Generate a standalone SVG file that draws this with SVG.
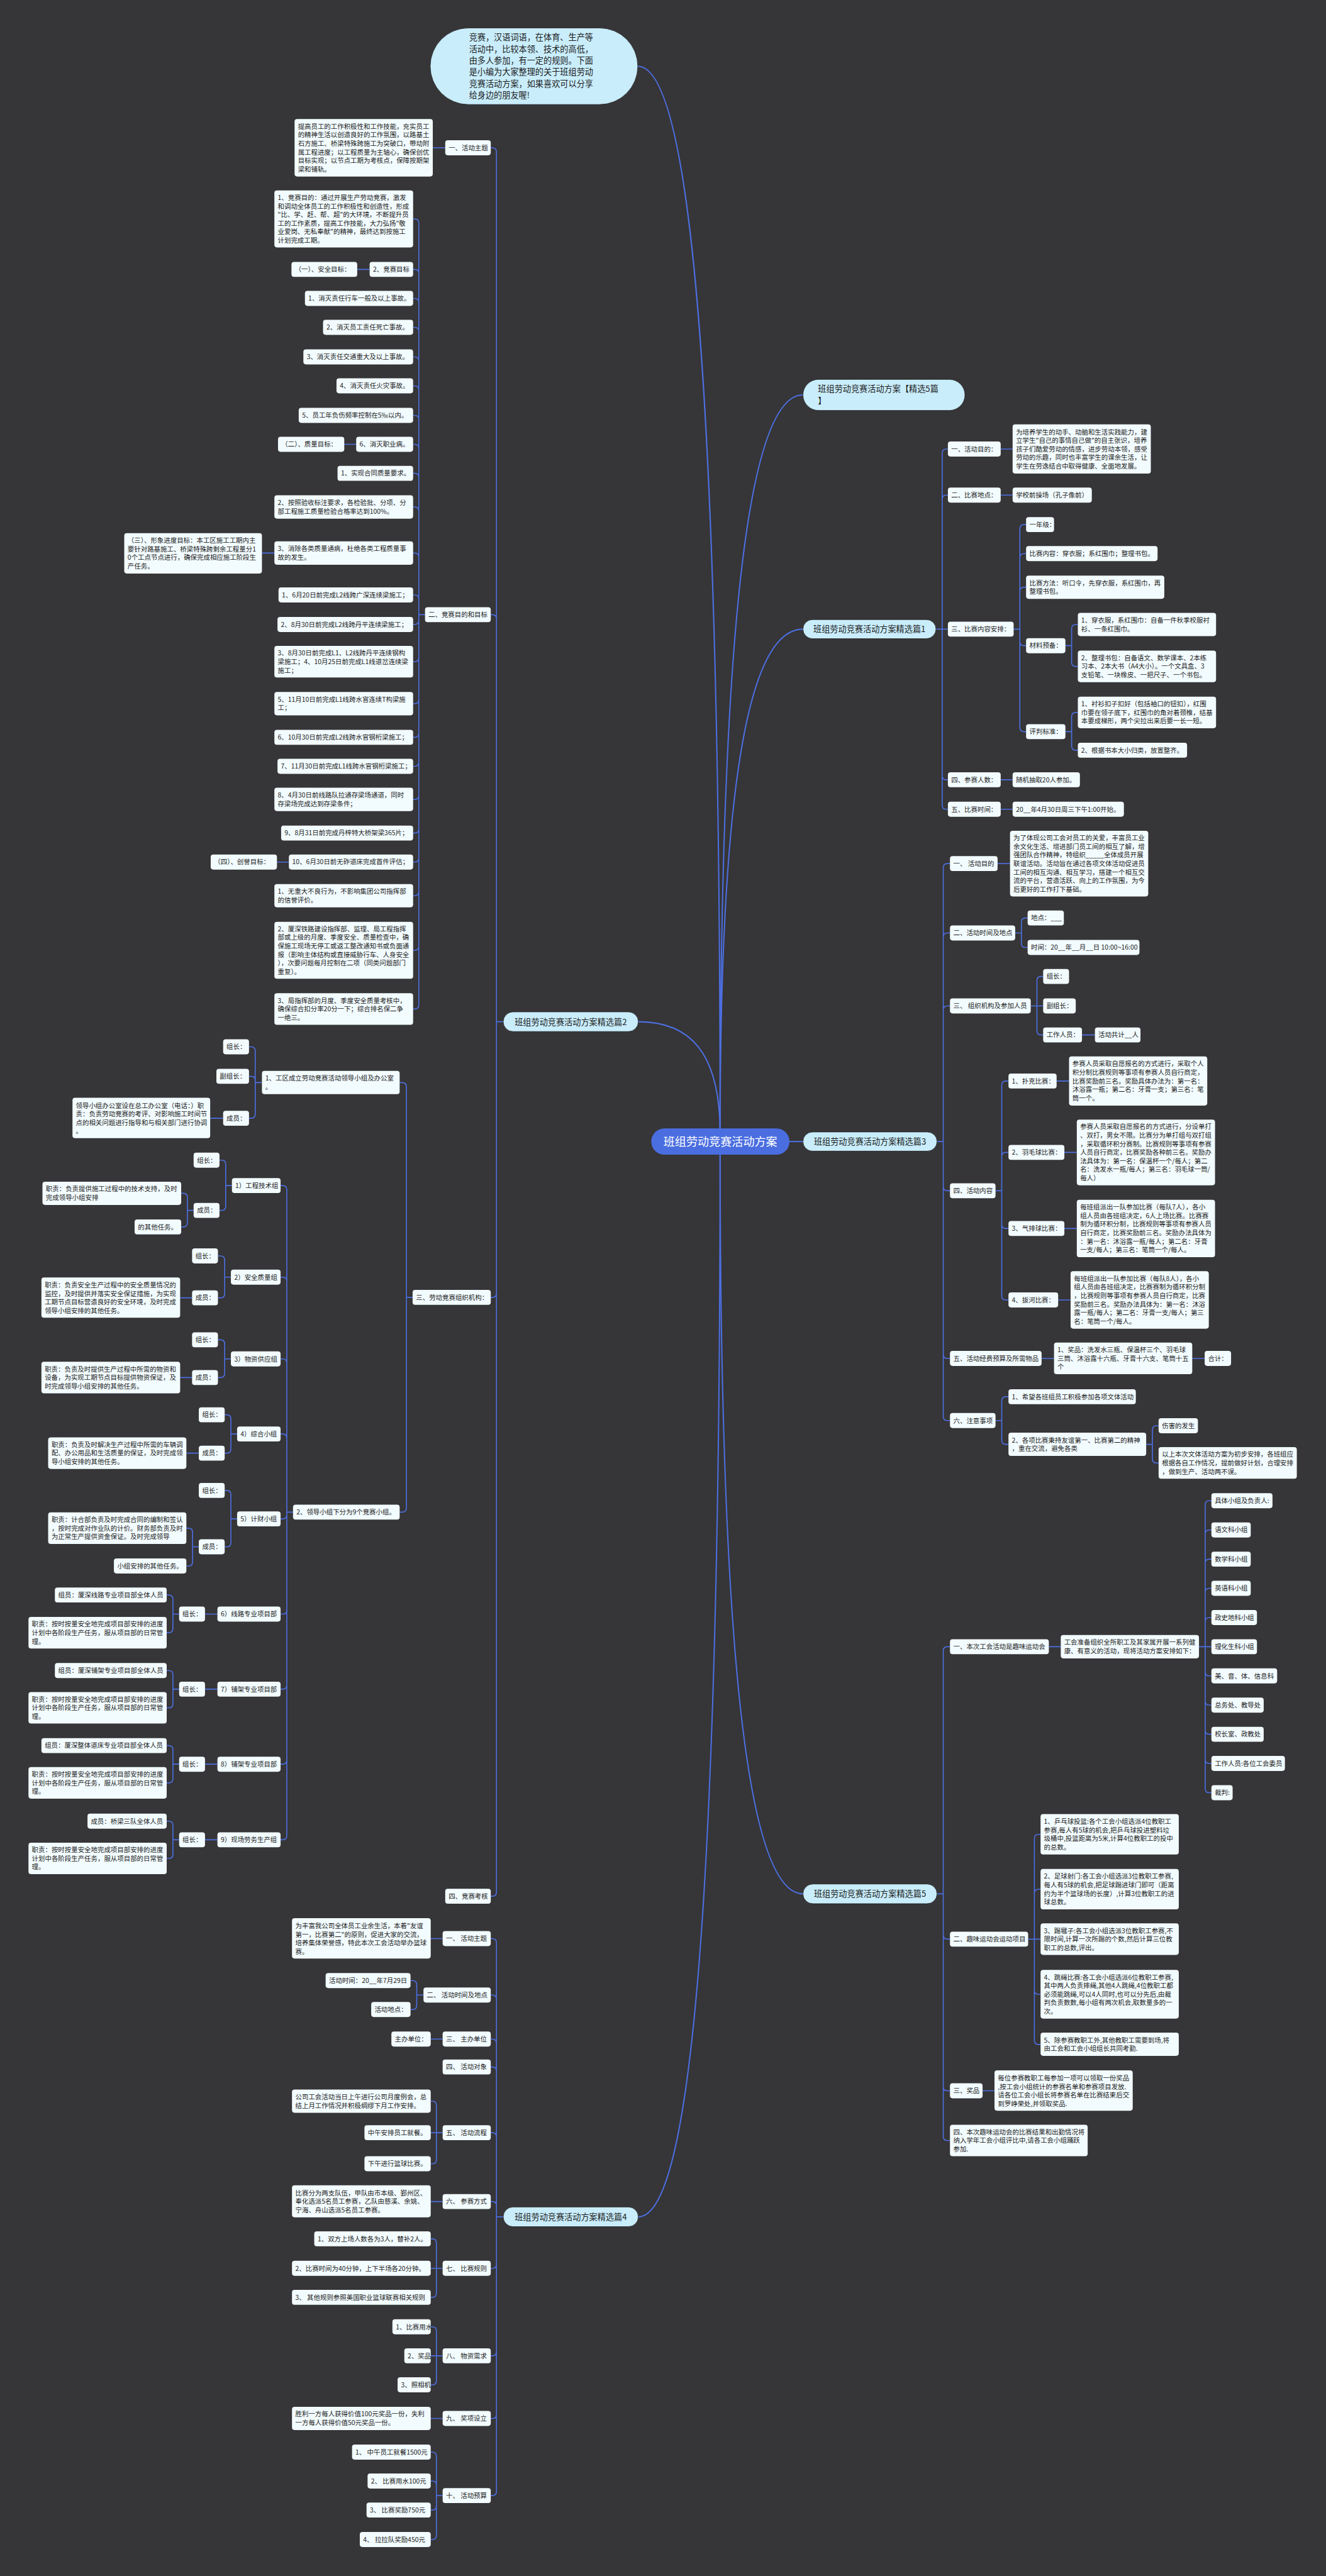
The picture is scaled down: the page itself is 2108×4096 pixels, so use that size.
<svg xmlns="http://www.w3.org/2000/svg" width="2108" height="4096" viewBox="0 0 2108 4096">
<style>
text{font-family:"Noto Sans CJK SC","Noto Sans",sans-serif;fill:#1c1c1c}
.n rect{fill:#f2fbfe}
.n text{font-size:12.7px}
.b rect{fill:#c9edfb;stroke:#202020;stroke-width:1}
.b text{font-size:16px;text-anchor:middle}
.c path{fill:none;stroke:#4c6fe0;stroke-width:2}
.c .m{stroke-width:2.5}
</style>
<rect width="2108" height="4096" fill="#363537"/>
<g transform="scale(0.823)">
<g id="connectors" class="c">
<path class="m" d="M1232 128C1329 128 1391 688 1391 2190"/>
<path class="m" d="M1391 2190C1391 1146 1453 763 1551 763"/>
<path class="m" d="M1391 2190C1391 1476 1453 1215.5 1551 1215.5"/>
<path class="m" d="M1391 2190C1391 2030 1330 1974 1233 1974"/>
<path class="m" d="M1520 2205.5H1551"/>
<path class="m" d="M1391 2220C1391 3729 1330 4283 1233 4283"/>
<path class="m" d="M1391 2220C1391 3273 1453 3659 1551 3659"/>
<path d="M1808 1215.5H1820M1820 875.5V1555.5M1820 875.5Q1820 867.5 1828 867.5H1831M1820 964.5Q1820 956.5 1828 956.5H1831M1820 1215.5H1831M1820 1498.5Q1820 1506.5 1828 1506.5H1831M1820 1555.5Q1820 1563.5 1828 1563.5H1831"/>
<path d="M1958 1215.5H1970M1970 1021.5V1405.5M1970 1021.5Q1970 1013.5 1978 1013.5H1982M1970 1077.5Q1970 1069.5 1978 1069.5H1982M1970 1142.5Q1970 1134.5 1978 1134.5H1982M1970 1239.5Q1970 1247.5 1978 1247.5H1982M1970 1405.5Q1970 1413.5 1978 1413.5H1982"/>
<path d="M2058 1247.5H2070M2070 1214.5V1279.5M2070 1214.5Q2070 1206.5 2078 1206.5H2082M2070 1279.5Q2070 1287.5 2078 1287.5H2082"/>
<path d="M2058 1413.5H2070M2070 1384.5V1441.5M2070 1384.5Q2070 1376.5 2078 1376.5H2082M2070 1441.5Q2070 1449.5 2078 1449.5H2082"/>
<path d="M1933 867.5H1956M1933 956.5H1956M1933 1506.5H1956M1933 1563.5H1956"/>
<path d="M1810 2205.5H1822M1822 1676.5V2736.5M1822 1676.5Q1822 1668.5 1830 1668.5H1835M1822 1810.5Q1822 1802.5 1830 1802.5H1835M1822 1951.5Q1822 1943.5 1830 1943.5H1835M1822 2292.5Q1822 2300.5 1830 2300.5H1835M1822 2616.5Q1822 2624.5 1830 2624.5H1835M1822 2736.5Q1822 2744.5 1830 2744.5H1835"/>
<path d="M1927 1668.5H1951"/>
<path d="M1961 1802.5H1973M1973 1781.5V1822.5M1973 1781.5Q1973 1773.5 1981 1773.5H1985M1973 1822.5Q1973 1830.5 1981 1830.5H1985"/>
<path d="M1991 1943.5H2015M2003 1894.5V1991.5M2003 1894.5Q2003 1886.5 2011 1886.5H2015M2003 1991.5Q2003 1999.5 2011 1999.5H2015M2090 1999.5H2115"/>
<path d="M1923 2300.5H1935M1935 2096.5V2503.5M1935 2096.5Q1935 2088.5 1943 2088.5H1948M1935 2234.5Q1935 2226.5 1943 2226.5H1948M1935 2365.5Q1935 2373.5 1943 2373.5H1948M1935 2503.5Q1935 2511.5 1943 2511.5H1948"/>
<path d="M2041 2088.5H2065M2056 2226.5H2080M2056 2373.5H2080M2044 2511.5H2068M2012 2624.5H2036M2303 2624.5H2327"/>
<path d="M1923 2744.5H1935M1935 2706.5V2782.5M1935 2706.5Q1935 2698.5 1943 2698.5H1948M1935 2782.5Q1935 2790.5 1943 2790.5H1948"/>
<path d="M2214 2790.5H2226M2226 2762.5V2818.5M2226 2762.5Q2226 2754.5 2234 2754.5H2238M2226 2818.5Q2226 2826.5 2234 2826.5H2238"/>
<path d="M1810 3659H1822M1822 3189.5V4127.5M1822 3189.5Q1822 3181.5 1830 3181.5H1835M1822 3738.5Q1822 3746.5 1830 3746.5H1835M1822 4031.5Q1822 4039.5 1830 4039.5H1835M1822 4127.5Q1822 4135.5 1830 4135.5H1835"/>
<path d="M2026 3181.5H2049M1898 4039.5H1921"/>
<path d="M2316 3181.5H2340M2328 2907.5V3455.5M2328 2907.5Q2328 2899.5 2336 2899.5H2340M2328 2963.9Q2328 2955.9 2336 2955.9H2340M2328 3020.3Q2328 3012.3 2336 3012.3H2340M2328 3076.7Q2328 3068.7 2336 3068.7H2340M2328 3133.1Q2328 3125.1 2336 3125.1H2340M2328 3229.9Q2328 3237.9 2336 3237.9H2340M2328 3286.3Q2328 3294.3 2336 3294.3H2340M2328 3342.7Q2328 3350.7 2336 3350.7H2340M2328 3399.1Q2328 3407.1 2336 3407.1H2340M2328 3455.5Q2328 3463.5 2336 3463.5H2340"/>
<path d="M1986 3746.5H2010M1998 3552V3942M1998 3552Q1998 3544 2006 3544H2010M1998 3658Q1998 3650 2006 3650H2010M1998 3845Q1998 3853 2006 3853H2010M1998 3942Q1998 3950 2006 3950H2010"/>
<path d="M972 1974H959M959 293.5V3655.5M959 293.5Q959 285.5 951 285.5H948M959 1195.5Q959 1187.5 951 1187.5H948M959 2498.5Q959 2506.5 951 2506.5H948M959 3655.5Q959 3663.5 951 3663.5H948"/>
<path d="M860 285.5H836"/>
<path d="M821 1187.5H809M809 431V1941.5M809 431Q809 423 801 423H798M809 528.5Q809 520.5 801 520.5H798M809 584.5Q809 576.5 801 576.5H798M809 640.5Q809 632.5 801 632.5H798M809 697.5Q809 689.5 801 689.5H798M809 753.5Q809 745.5 801 745.5H798M809 810.5Q809 802.5 801 802.5H798M809 866.5Q809 858.5 801 858.5H798M809 922.5Q809 914.5 801 914.5H798M809 987.5Q809 979.5 801 979.5H798M809 1076.5Q809 1068.5 801 1068.5H798M809 1157.5Q809 1149.5 801 1149.5H798M809 1198.5Q809 1206.5 801 1206.5H798M809 1270.5Q809 1278.5 801 1278.5H798M809 1351.5Q809 1359.5 801 1359.5H798M809 1416.5Q809 1424.5 801 1424.5H798M809 1472.5Q809 1480.5 801 1480.5H798M809 1536.5Q809 1544.5 801 1544.5H798M809 1601.5Q809 1609.5 801 1609.5H798M809 1657.5Q809 1665.5 801 1665.5H798M809 1722.5Q809 1730.5 801 1730.5H798M809 1828Q809 1836 801 1836H798M809 1941.5Q809 1949.5 801 1949.5H798"/>
<path d="M714 520.5H690M688 858.5H665M530 1068.5H506M558 1665.5H535"/>
<path d="M797 2506.5H785M785 2099.5V2913.5M785 2099.5Q785 2091.5 777 2091.5H772M785 2913.5Q785 2921.5 777 2921.5H772"/>
<path d="M506 2091.5H493M493 2030.5V2152.5M493 2030.5Q493 2022.5 485 2022.5H481M493 2087.5Q493 2079.5 485 2079.5H481M493 2152.5Q493 2160.5 485 2160.5H481M431 2160.5H406"/>
<path d="M566 2921.5H554M554 2298.5V3546.5M554 2298.5Q554 2290.5 546 2290.5H542M554 2475.5Q554 2467.5 546 2467.5H542M554 2633.5Q554 2625.5 546 2625.5H542M554 2778.5Q554 2770.5 546 2770.5H542M554 2926.5Q554 2934.5 546 2934.5H542M554 3110.5Q554 3118.5 546 3118.5H542M554 3255.5Q554 3263.5 546 3263.5H542M554 3400.5Q554 3408.5 546 3408.5H542M554 3546.5Q554 3554.5 546 3554.5H542"/>
<path d="M448 2290.5H436M436 2249.5V2330.5M436 2249.5Q436 2241.5 428 2241.5H424M436 2330.5Q436 2338.5 428 2338.5H424"/>
<path d="M374 2338.5H362M362 2313.5V2362.5M362 2313.5Q362 2305.5 354 2305.5H350M362 2362.5Q362 2370.5 354 2370.5H350"/>
<path d="M446 2467.5H434M434 2434.5V2499.5M434 2434.5Q434 2426.5 426 2426.5H421M434 2499.5Q434 2507.5 426 2507.5H421M371 2507.5H348"/>
<path d="M446 2625.5H434M434 2596.5V2653.5M434 2596.5Q434 2588.5 426 2588.5H421M434 2653.5Q434 2661.5 426 2661.5H421M371 2661.5H348"/>
<path d="M458 2770.5H446M446 2741.5V2799.5M446 2741.5Q446 2733.5 438 2733.5H434M446 2799.5Q446 2807.5 438 2807.5H434M384 2807.5H360"/>
<path d="M458 2934.5H446M446 2887.5V2980.5M446 2887.5Q446 2879.5 438 2879.5H434M446 2980.5Q446 2988.5 438 2988.5H434"/>
<path d="M384 2988.5H372M372 2960.5V3017.5M372 2960.5Q372 2952.5 364 2952.5H360M372 3017.5Q372 3025.5 364 3025.5H360"/>
<path d="M420 3118.5H396M346 3118.5H334M334 3089.5V3146.5M334 3089.5Q334 3081.5 326 3081.5H322M334 3146.5Q334 3154.5 326 3154.5H322"/>
<path d="M420 3263.5H396M346 3263.5H334M334 3235.5V3291.5M334 3235.5Q334 3227.5 326 3227.5H322M334 3291.5Q334 3299.5 326 3299.5H322"/>
<path d="M420 3408.5H396M346 3408.5H334M334 3380.5V3436.5M334 3380.5Q334 3372.5 326 3372.5H322M334 3436.5Q334 3444.5 326 3444.5H322"/>
<path d="M420 3554.5H396M346 3554.5H334M334 3526.5V3582.5M334 3526.5Q334 3518.5 326 3518.5H322M334 3582.5Q334 3590.5 326 3590.5H322"/>
<path d="M972 4283H959M959 3753.5V4813.5M959 3753.5Q959 3745.5 951 3745.5H948M959 3862.5Q959 3854.5 951 3854.5H948M959 3947.5Q959 3939.5 951 3939.5H948M959 4001.5Q959 3993.5 951 3993.5H948M959 4128.5Q959 4120.5 951 4120.5H948M959 4261.5Q959 4253.5 951 4253.5H948M959 4374.5Q959 4382.5 951 4382.5H948M959 4543.5Q959 4551.5 951 4551.5H948M959 4664.5Q959 4672.5 951 4672.5H948M959 4813.5Q959 4821.5 951 4821.5H948"/>
<path d="M855 3745.5H832M855 3939.5H832M855 4253.5H832M855 4672.5H832"/>
<path d="M818 3854.5H805M805 3834.5V3874.5M805 3834.5Q805 3826.5 797 3826.5H793M805 3874.5Q805 3882.5 797 3882.5H793"/>
<path d="M855 4120.5H832M843 4067.5V4172.5M843 4067.5Q843 4059.5 835 4059.5H832M843 4172.5Q843 4180.5 835 4180.5H832"/>
<path d="M855 4382.5H832M843 4333.5V4430.5M843 4333.5Q843 4325.5 835 4325.5H832M843 4430.5Q843 4438.5 835 4438.5H832"/>
<path d="M855 4551.5H832M843 4503.5V4599.5M843 4503.5Q843 4495.5 835 4495.5H832M843 4599.5Q843 4607.5 835 4607.5H832"/>
<path d="M855 4821.5H843M843 4745.5V4898.5M843 4745.5Q843 4737.5 835 4737.5H832M843 4801.5Q843 4793.5 835 4793.5H832M843 4841.5Q843 4849.5 835 4849.5H832M843 4898.5Q843 4906.5 835 4906.5H832"/>
</g>

<g id="center"><rect x="1258" y="2180" width="267" height="51" rx="25.5" fill="#4a6de0"/><text x="1391.5" y="2213.5" font-size="22" text-anchor="middle" style="fill:#fff">班组劳动竞赛活动方案</text></g>

<g id="intro"><rect x="831" y="54" width="401" height="148" rx="74" fill="#c9edfb" stroke="#202020"/><text x="906" y="78" font-size="16">竞赛，汉语词语，在体育、生产等<tspan x="906" dy="22.4">活动中，比较本领、技术的高低，</tspan><tspan x="906" dy="22.4">由多人参加，有一定的规则。下面</tspan><tspan x="906" dy="22.4">是小编为大家整理的关于班组劳动</tspan><tspan x="906" dy="22.4">竞赛活动方案，如果喜欢可以分享</tspan><tspan x="906" dy="22.4">给身边的朋友喔!</tspan></text></g>

<g id="b-all" class="b"><rect x="1551" y="733" width="313" height="60" rx="30"/><text x="1580" y="757" style="text-anchor:start">班组劳动竞赛活动方案【精选5篇<tspan x="1580" dy="23">】</tspan></text></g>
<g id="b1" class="b"><rect x="1551" y="1197" width="257" height="37" rx="18.5"/><text x="1679.5" y="1221.5">班组劳动竞赛活动方案精选篇1</text></g>
<g id="b2" class="b"><rect x="972" y="1955" width="261" height="38" rx="19"/><text x="1102.5" y="1980">班组劳动竞赛活动方案精选篇2</text></g>
<g id="b3" class="b"><rect x="1551" y="2187" width="259" height="37" rx="18.5"/><text x="1680.5" y="2211.5">班组劳动竞赛活动方案精选篇3</text></g>
<g id="b4" class="b"><rect x="972" y="4264" width="261" height="38" rx="19"/><text x="1102.5" y="4289">班组劳动竞赛活动方案精选篇4</text></g>
<g id="b5" class="b"><rect x="1551" y="3640" width="259" height="38" rx="19"/><text x="1680.5" y="3665">班组劳动竞赛活动方案精选篇5</text></g>

<!-- 精选1 -->
<g id="r1a" class="n"><rect x="1831" y="853" width="102" height="29" rx="5"/><text x="1837.5" y="872.1">一、活动目的：</text></g>
<g id="r1b" class="n"><rect x="1831" y="942" width="102" height="29" rx="5"/><text x="1837.5" y="961.1">二、比赛地点：</text></g>
<g id="r1c" class="n"><rect x="1831" y="1201" width="127" height="29" rx="5"/><text x="1837.5" y="1220.1">三、比赛内容安排：</text></g>
<g id="r1d" class="n"><rect x="1831" y="1492" width="102" height="29" rx="5"/><text x="1837.5" y="1511.1">四、参赛人数：</text></g>
<g id="r1e" class="n"><rect x="1831" y="1549" width="102" height="29" rx="5"/><text x="1837.5" y="1568.1">五、比赛时间：</text></g>
<g id="r1a1" class="n"><rect x="1956" y="820" width="267" height="95" rx="5"/><text x="1962.5" y="839.1">为培养学生的动手、动脑和生活实践能力，建<tspan x="1962.5" dy="16.5">立学生"自己的事情自己做"的自主张识，培养</tspan><tspan x="1962.5" dy="16.5">孩子们酷爱劳动的情感，进步劳动本领，感受</tspan><tspan x="1962.5" dy="16.5">劳动的乐趣，同时也丰富学生的课余生活，让</tspan><tspan x="1962.5" dy="16.5">学生在劳逸结合中取得健康、全面地发展。</tspan></text></g>
<g id="r1b1" class="n"><rect x="1956" y="942" width="153" height="29" rx="5"/><text x="1962.5" y="961.1">学校前操场（孔子像前）</text></g>
<g id="r1c1" class="n"><rect x="1982" y="999" width="54" height="29" rx="5"/><text x="1988.5" y="1018.1">一年级：</text></g>
<g id="r1c2" class="n"><rect x="1982" y="1055" width="254" height="29" rx="5"/><text x="1988.5" y="1074.1">比赛内容：穿衣服；系红围巾；整理书包。</text></g>
<g id="r1c3" class="n"><rect x="1982" y="1112" width="267" height="45" rx="5"/><text x="1988.5" y="1130.85">比赛方法：听口令，先穿衣服，系红围巾，再<tspan x="1988.5" dy="16.5">整理书包。</tspan></text></g>
<g id="r1c4" class="n"><rect x="1982" y="1233" width="76" height="29" rx="5"/><text x="1988.5" y="1252.1">材料预备：</text></g>
<g id="r1c5" class="n"><rect x="1982" y="1399" width="76" height="29" rx="5"/><text x="1988.5" y="1418.1">评判标准：</text></g>
<g id="r1c41" class="n"><rect x="2082" y="1184" width="267" height="45" rx="5"/><text x="2088.5" y="1202.85">1、穿衣服，系红围巾：自备一件秋季校服衬<tspan x="2088.5" dy="16.5">衫、一条红围巾。</tspan></text></g>
<g id="r1c42" class="n"><rect x="2082" y="1257" width="267" height="61" rx="5"/><text x="2088.5" y="1275.6">2、整理书包：自备语文、数学课本、2本练<tspan x="2088.5" dy="16.5">习本、2本大书（A4大小）。一个文具盒、3</tspan><tspan x="2088.5" dy="16.5">支铅笔、一块橡皮、一把尺子、一个书包。</tspan></text></g>
<g id="r1c51" class="n"><rect x="2082" y="1346" width="267" height="61" rx="5"/><text x="2088.5" y="1364.6">1、衬衫扣子扣好（包括袖口的钮扣），红围<tspan x="2088.5" dy="16.5">巾要在领子底下，红围巾的角对着颈椎，结基</tspan><tspan x="2088.5" dy="16.5">本要成梯形，两个尖拉出来后要一长一短。</tspan></text></g>
<g id="r1c52" class="n"><rect x="2082" y="1435" width="211" height="29" rx="5"/><text x="2088.5" y="1454.1">2、根据书本大小归类，放置整齐。</text></g>
<g id="r1d1" class="n"><rect x="1956" y="1492" width="130" height="29" rx="5"/><text x="1962.5" y="1511.1">随机抽取20人参加。</text></g>
<g id="r1e1" class="n"><rect x="1956" y="1549" width="215" height="29" rx="5"/><text x="1962.5" y="1568.1">20__年4月30日周三下午1:00开始。</text></g>

<!-- 精选3 -->
<g id="r3a" class="n"><rect x="1835" y="1654" width="92" height="29" rx="5"/><text x="1841.5" y="1673.1">一、 活动目的</text></g>
<g id="r3b" class="n"><rect x="1835" y="1788" width="126" height="29" rx="5"/><text x="1841.5" y="1807.1">二、活动时间及地点</text></g>
<g id="r3c" class="n"><rect x="1835" y="1929" width="156" height="29" rx="5"/><text x="1841.5" y="1948.1">三、 组织机构及参加人员</text></g>
<g id="r3d" class="n"><rect x="1835" y="2286" width="88" height="29" rx="5"/><text x="1841.5" y="2305.1">四、活动内容</text></g>
<g id="r3e" class="n"><rect x="1835" y="2610" width="177" height="29" rx="5"/><text x="1841.5" y="2629.1">五、活动经费预算及所需物品</text></g>
<g id="r3f" class="n"><rect x="1835" y="2730" width="88" height="29" rx="5"/><text x="1841.5" y="2749.1">六、注意事项</text></g>
<g id="r3a1" class="n"><rect x="1951" y="1605" width="267" height="127" rx="5"/><text x="1957.5" y="1623.6">为了体现公司工会对员工的关爱，丰富员工业<tspan x="1957.5" dy="16.5">余文化生活、增进部门员工间的相互了解，增</tspan><tspan x="1957.5" dy="16.5">强团队合作精神，特组织_____全体成员开展</tspan><tspan x="1957.5" dy="16.5">联谊活动。活动旨在通过各项文体活动促进员</tspan><tspan x="1957.5" dy="16.5">工间的相互沟通、相互学习，搭建一个相互交</tspan><tspan x="1957.5" dy="16.5">流的平台，营造活跃、向上的工作氛围，为今</tspan><tspan x="1957.5" dy="16.5">后更好的工作打下基础。</tspan></text></g>
<g id="r3b1" class="n"><rect x="1985" y="1759" width="70" height="29" rx="5"/><text x="1991.5" y="1778.1">地点：___</text></g>
<g id="r3b2" class="n"><rect x="1985" y="1816" width="216" height="29" rx="5"/><text x="1991.5" y="1835.1">时间：20__年__月__日 10:00~16:00</text></g>
<g id="r3c1" class="n"><rect x="2015" y="1872" width="50" height="29" rx="5"/><text x="2021.5" y="1891.1">组长：</text></g>
<g id="r3c2" class="n"><rect x="2015" y="1929" width="63" height="29" rx="5"/><text x="2021.5" y="1948.1">副组长：</text></g>
<g id="r3c3" class="n"><rect x="2015" y="1985" width="75" height="29" rx="5"/><text x="2021.5" y="2004.1">工作人员：</text></g>
<g id="r3c31" class="n"><rect x="2115" y="1985" width="88" height="29" rx="5"/><text x="2121.5" y="2004.1">活动共计__人</text></g>
<g id="r3d1" class="n"><rect x="1948" y="2074" width="93" height="29" rx="5"/><text x="1954.5" y="2093.1">1、扑克比赛：</text></g>
<g id="r3d2" class="n"><rect x="1948" y="2212" width="108" height="29" rx="5"/><text x="1954.5" y="2231.1">2、羽毛球比赛：</text></g>
<g id="r3d3" class="n"><rect x="1948" y="2359" width="108" height="29" rx="5"/><text x="1954.5" y="2378.1">3、气排球比赛：</text></g>
<g id="r3d4" class="n"><rect x="1948" y="2497" width="96" height="29" rx="5"/><text x="1954.5" y="2516.1">4、拔河比赛：</text></g>
<g id="r3d11" class="n"><rect x="2065" y="2041" width="267" height="95" rx="5"/><text x="2071.5" y="2060.1">参赛人员采取自愿报名的方式进行，采取个人<tspan x="2071.5" dy="16.5">积分制比赛规则等事项有参赛人员自行商定，</tspan><tspan x="2071.5" dy="16.5">比赛奖励前三名。奖励具体办法为：第一名：</tspan><tspan x="2071.5" dy="16.5">沐浴露一瓶；第二名：牙膏一支；第三名：笔</tspan><tspan x="2071.5" dy="16.5">筒一个。</tspan></text></g>
<g id="r3d21" class="n"><rect x="2080" y="2163" width="267" height="127" rx="5"/><text x="2086.5" y="2181.6">参赛人员采取自愿报名的方式进行，分设单打<tspan x="2086.5" dy="16.5">、双打，男女不限。比赛分为单打组与双打组</tspan><tspan x="2086.5" dy="16.5">，采取循环积分赛制。比赛规则等事项有参赛</tspan><tspan x="2086.5" dy="16.5">人员自行商定，比赛奖励各种前三名。奖励办</tspan><tspan x="2086.5" dy="16.5">法具体为：第一名：保温杯一个/每人；第二</tspan><tspan x="2086.5" dy="16.5">名：洗发水一瓶/每人；第三名：羽毛球一筒/</tspan><tspan x="2086.5" dy="16.5">每人）</tspan></text></g>
<g id="r3d31" class="n"><rect x="2080" y="2318" width="267" height="111" rx="5"/><text x="2086.5" y="2336.85">每班组派出一队参加比赛（每队7人），各小<tspan x="2086.5" dy="16.5">组人员由各班组决定，6人上场比赛。比赛赛</tspan><tspan x="2086.5" dy="16.5">制为循环积分制，比赛规则等事项有参赛人员</tspan><tspan x="2086.5" dy="16.5">自行商定，比赛奖励前三名。奖励办法具体为</tspan><tspan x="2086.5" dy="16.5">：第一名：沐浴露一瓶/每人；第二名：牙膏</tspan><tspan x="2086.5" dy="16.5">一支/每人；第三名：笔筒一个/每人。</tspan></text></g>
<g id="r3d41" class="n"><rect x="2068" y="2456" width="267" height="111" rx="5"/><text x="2074.5" y="2474.85">每班组派出一队参加比赛（每队8人），各小<tspan x="2074.5" dy="16.5">组人员由各班组决定，比赛赛制为循环积分制</tspan><tspan x="2074.5" dy="16.5">，比赛规则等事项有参赛人员自行商定，比赛</tspan><tspan x="2074.5" dy="16.5">奖励前三名。奖励办法具体为：第一名：沐浴</tspan><tspan x="2074.5" dy="16.5">露一瓶/每人；第二名：牙膏一支/每人；第三</tspan><tspan x="2074.5" dy="16.5">名：笔筒一个/每人。</tspan></text></g>
<g id="r3e1" class="n"><rect x="2036" y="2594" width="267" height="61" rx="5"/><text x="2042.5" y="2612.6">1、奖品：洗发水三瓶、保温杯三个、羽毛球<tspan x="2042.5" dy="16.5">三筒、沐浴露十六瓶、牙膏十六支、笔筒十五</tspan><tspan x="2042.5" dy="16.5">个</tspan></text></g>
<g id="r3e2" class="n"><rect x="2327" y="2610" width="51" height="29" rx="5"/><text x="2333.5" y="2629.1">合计：</text></g>
<g id="r3f1" class="n"><rect x="1948" y="2684" width="246" height="29" rx="5"/><text x="1954.5" y="2703.1">1、希望各班组员工积极参加各项文体活动</text></g>
<g id="r3f2" class="n"><rect x="1948" y="2768" width="266" height="45" rx="5"/><text x="1954.5" y="2786.85">2、各项比赛秉持友谊第一、比赛第二的精神<tspan x="1954.5" dy="16.5">，重在交流，避免各类</tspan></text></g>
<g id="r3f21" class="n"><rect x="2238" y="2740" width="76" height="29" rx="5"/><text x="2244.5" y="2759.1">伤害的发生</text></g>
<g id="r3f22" class="n"><rect x="2238" y="2796" width="267" height="61" rx="5"/><text x="2244.5" y="2814.6">以上本次文体活动方案为初步安排，各班组应<tspan x="2244.5" dy="16.5">根据各自工作情况，提前做好计划，合理安排</tspan><tspan x="2244.5" dy="16.5">，做到生产、活动两不误。</tspan></text></g>

<!-- 精选5 -->
<g id="r5a" class="n"><rect x="1835" y="3167" width="191" height="29" rx="5"/><text x="1841.5" y="3186.1">一、本次工会活动是趣味运动会</text></g>
<g id="r5b" class="n"><rect x="1835" y="3732" width="151" height="29" rx="5"/><text x="1841.5" y="3751.1">二、趣味运动会运动项目</text></g>
<g id="r5c" class="n"><rect x="1835" y="4025" width="63" height="29" rx="5"/><text x="1841.5" y="4044.1">三、奖品</text></g>
<g id="r5d" class="n"><rect x="1835" y="4105" width="266" height="61" rx="5"/><text x="1841.5" y="4123.6">四、本次趣味运动会的比赛结果和出勤情况将<tspan x="1841.5" dy="16.5">纳入学年工会小组评比中,请各工会小组踊跃</tspan><tspan x="1841.5" dy="16.5">参加.</tspan></text></g>
<g id="r5a1" class="n"><rect x="2049" y="3159" width="267" height="45" rx="5"/><text x="2055.5" y="3177.85">工会准备组织全所职工及其家属开展一系列健<tspan x="2055.5" dy="16.5">康、有意义的活动，现将活动方案安排如下：</tspan></text></g>
<g id="r5g1" class="n"><rect x="2340" y="2885" width="118" height="29" rx="5"/><text x="2346.5" y="2904.1">具体小组及负责人:</text></g>
<g id="r5g2" class="n"><rect x="2340" y="2941.4" width="76" height="29" rx="5"/><text x="2346.5" y="2960.5">语文科小组</text></g>
<g id="r5g3" class="n"><rect x="2340" y="2997.8" width="76" height="29" rx="5"/><text x="2346.5" y="3016.9">数学科小组</text></g>
<g id="r5g4" class="n"><rect x="2340" y="3054.2" width="76" height="29" rx="5"/><text x="2346.5" y="3073.3">英语科小组</text></g>
<g id="r5g5" class="n"><rect x="2340" y="3110.6" width="88" height="29" rx="5"/><text x="2346.5" y="3129.7">政史地科小组</text></g>
<g id="r5g6" class="n"><rect x="2340" y="3167" width="88" height="29" rx="5"/><text x="2346.5" y="3186.1">理化生科小组</text></g>
<g id="r5g7" class="n"><rect x="2340" y="3223.4" width="127" height="29" rx="5"/><text x="2346.5" y="3242.5">美、音、体、信息科</text></g>
<g id="r5g8" class="n"><rect x="2340" y="3279.8" width="101" height="29" rx="5"/><text x="2346.5" y="3298.9">总务处、教导处</text></g>
<g id="r5g9" class="n"><rect x="2340" y="3336.2" width="101" height="29" rx="5"/><text x="2346.5" y="3355.3">校长室、政教处</text></g>
<g id="r5g10" class="n"><rect x="2340" y="3392.6" width="142" height="29" rx="5"/><text x="2346.5" y="3411.7">工作人员:各位工会委员</text></g>
<g id="r5g11" class="n"><rect x="2340" y="3449" width="41" height="29" rx="5"/><text x="2346.5" y="3468.1">裁判:</text></g>
<g id="r5b1" class="n"><rect x="2010" y="3505" width="267" height="78" rx="5"/><text x="2016.5" y="3523.85">1、乒乓球投篮:各个工会小组选派4位教职工<tspan x="2016.5" dy="16.5">参赛,每人有5球的机会,把乒乓球投进塑料垃</tspan><tspan x="2016.5" dy="16.5">圾桶中,投篮距离为5米,计算4位教职工的投中</tspan><tspan x="2016.5" dy="16.5">的总数。</tspan></text></g>
<g id="r5b2" class="n"><rect x="2010" y="3611" width="267" height="78" rx="5"/><text x="2016.5" y="3629.85">2、足球射门:各工会小组选派3位教职工参赛,<tspan x="2016.5" dy="16.5">每人有5球的机会,把足球踢进球门即可（距离</tspan><tspan x="2016.5" dy="16.5">约为半个篮球场的长度）,计算3位教职工的进</tspan><tspan x="2016.5" dy="16.5">球总数。</tspan></text></g>
<g id="r5b3" class="n"><rect x="2010" y="3716" width="267" height="61" rx="5"/><text x="2016.5" y="3734.6">3、踢毽子:各工会小组选派3位教职工参赛,不<tspan x="2016.5" dy="16.5">限时间,计算一次所踢的个数,然后计算三位教</tspan><tspan x="2016.5" dy="16.5">职工的总数,评出。</tspan></text></g>
<g id="r5b4" class="n"><rect x="2010" y="3806" width="267" height="94" rx="5"/><text x="2016.5" y="3824.6">4、跳绳比赛:各工会小组选派6位教职工参赛,<tspan x="2016.5" dy="16.5">其中两人负责摔绳,其他4人跳绳,4位教职工都</tspan><tspan x="2016.5" dy="16.5">必须能跳绳,可以4人同时,也可以分先后,由裁</tspan><tspan x="2016.5" dy="16.5">判负责数数,每小组有两次机会,取数量多的一</tspan><tspan x="2016.5" dy="16.5">次。</tspan></text></g>
<g id="r5b5" class="n"><rect x="2010" y="3927" width="267" height="45" rx="5"/><text x="2016.5" y="3946.35">5、除参赛教职工外,其他教职工需要到场,将<tspan x="2016.5" dy="16.5">由工会和工会小组组长共同考勤.</tspan></text></g>
<g id="r5c1" class="n"><rect x="1921" y="4000" width="267" height="78" rx="5"/><text x="1927.5" y="4019.35">每位参赛教职工每参加一项可以领取一份奖品<tspan x="1927.5" dy="16.5">,按工会小组统计的参赛名单和参赛项目发放.</tspan><tspan x="1927.5" dy="16.5">请各位工会小组长将参赛名单在比赛结束后交</tspan><tspan x="1927.5" dy="16.5">到罗峥荣处,并领取奖品.</tspan></text></g>

<!-- 精选2 -->
<g id="l2a" class="n"><rect x="860" y="271" width="88" height="29" rx="5"/><text x="866.5" y="290.1">一、活动主题</text></g>
<g id="l2a1" class="n"><rect x="569" y="230" width="267" height="111" rx="5"/><text x="575.5" y="248.85">提高员工的工作积极性和工作技能，充实员工<tspan x="575.5" dy="16.5">的精神生活以创造良好的工作氛围，以路基土</tspan><tspan x="575.5" dy="16.5">石方施工、桥梁特殊跨施工为突破口，带动附</tspan><tspan x="575.5" dy="16.5">属工程进度；以工程质量为主轴心，确保创优</tspan><tspan x="575.5" dy="16.5">目标实现；以节点工期为考核点，保障按期架</tspan><tspan x="575.5" dy="16.5">梁和铺轨。</tspan></text></g>
<g id="l2b" class="n"><rect x="821" y="1173" width="127" height="29" rx="5"/><text x="827.5" y="1192.1">二、竞赛目的和目标</text></g>
<g id="l2c" class="n"><rect x="797" y="2492" width="151" height="29" rx="5"/><text x="803.5" y="2511.1">三、劳动竞赛组织机构：</text></g>
<g id="l2d" class="n"><rect x="860" y="3649" width="88" height="29" rx="5"/><text x="866.5" y="3668.1">四、竞赛考核</text></g>
<g id="l2b01" class="n"><rect x="530" y="368" width="268" height="110" rx="5"/><text x="536.5" y="386.35">1、竞赛目的：通过开展生产劳动竞赛，激发<tspan x="536.5" dy="16.5">和调动全体员工的工作积极性和创造性，形成</tspan><tspan x="536.5" dy="16.5">"比、学、赶、帮、超"的大环境，不断提升员</tspan><tspan x="536.5" dy="16.5">工的工作素质，提高工作技能，大力弘扬"敬</tspan><tspan x="536.5" dy="16.5">业爱岗、无私奉献"的精神，最终达到按施工</tspan><tspan x="536.5" dy="16.5">计划完成工期。</tspan></text></g>
<g id="l2b02" class="n"><rect x="714" y="506" width="84" height="29" rx="5"/><text x="720.5" y="525.1">2、竞赛目标</text></g>
<g id="l2b02a" class="n"><rect x="563" y="506" width="127" height="29" rx="5"/><text x="569.5" y="525.1">（一）、安全目标：</text></g>
<g id="l2b03" class="n"><rect x="589" y="562" width="209" height="29" rx="5"/><text x="595.5" y="581.1">1、消灭责任行车一般及以上事故。</text></g>
<g id="l2b04" class="n"><rect x="624" y="618" width="174" height="29" rx="5"/><text x="630.5" y="637.1">2、消灭员工责任死亡事故。</text></g>
<g id="l2b05" class="n"><rect x="586" y="675" width="212" height="29" rx="5"/><text x="592.5" y="694.1">3、消灭责任交通重大及以上事故。</text></g>
<g id="l2b06" class="n"><rect x="650" y="731" width="148" height="29" rx="5"/><text x="656.5" y="750.1">4、消灭责任火灾事故。</text></g>
<g id="l2b07" class="n"><rect x="577" y="788" width="221" height="29" rx="5"/><text x="583.5" y="807.1">5、员工年负伤频率控制在5‰以内。</text></g>
<g id="l2b08" class="n"><rect x="688" y="844" width="110" height="29" rx="5"/><text x="694.5" y="863.1">6、消灭职业病。</text></g>
<g id="l2b08a" class="n"><rect x="537" y="844" width="128" height="29" rx="5"/><text x="543.5" y="863.1">（二）、质量目标：</text></g>
<g id="l2b09" class="n"><rect x="652" y="900" width="146" height="29" rx="5"/><text x="658.5" y="919.1">1、实现合同质量要求。</text></g>
<g id="l2b10" class="n"><rect x="530" y="957" width="268" height="45" rx="5"/><text x="536.5" y="975.85">2、按照验收标注要求，各检验批、分项、分<tspan x="536.5" dy="16.5">部工程施工质量检验合格率达到100%。</tspan></text></g>
<g id="l2b11" class="n"><rect x="530" y="1046" width="268" height="45" rx="5"/><text x="536.5" y="1064.85">3、消除各类质量通病，杜绝各类工程质量事<tspan x="536.5" dy="16.5">故的发生。</tspan></text></g>
<g id="l2b11a" class="n"><rect x="240" y="1030" width="266" height="78" rx="5"/><text x="246.5" y="1048.85">（三）、形象进度目标：本工区施工工期内主<tspan x="246.5" dy="16.5">要针对路基施工、桥梁特殊跨剩余工程量分1</tspan><tspan x="246.5" dy="16.5">0个工点节点进行，确保完成相应施工阶段生</tspan><tspan x="246.5" dy="16.5">产任务。</tspan></text></g>
<g id="l2b12" class="n"><rect x="538" y="1135" width="260" height="29" rx="5"/><text x="544.5" y="1154.1">1、6月20日前完成L2线跨广深连续梁施工；</text></g>
<g id="l2b13" class="n"><rect x="536" y="1192" width="262" height="29" rx="5"/><text x="542.5" y="1211.1">2、8月30日前完成L2线跨丹平连续梁施工；</text></g>
<g id="l2b14" class="n"><rect x="530" y="1248" width="268" height="61" rx="5"/><text x="536.5" y="1266.6">3、8月30日前完成L1、L2线跨丹平连续钢构<tspan x="536.5" dy="16.5">梁施工；4、10月25日前完成L1线道岔连续梁</tspan><tspan x="536.5" dy="16.5">施工；</tspan></text></g>
<g id="l2b15" class="n"><rect x="530" y="1337" width="268" height="45" rx="5"/><text x="536.5" y="1355.85">5、11月10日前完成L1线跨水官连续T构梁施<tspan x="536.5" dy="16.5">工；</tspan></text></g>
<g id="l2b16" class="n"><rect x="530" y="1410" width="268" height="29" rx="5"/><text x="536.5" y="1429.1">6、10月30日前完成L2线跨水官钢桁梁施工；</text></g>
<g id="l2b17" class="n"><rect x="536" y="1466" width="262" height="29" rx="5"/><text x="542.5" y="1485.1">7、11月30日前完成L1线跨水官钢桁梁施工；</text></g>
<g id="l2b18" class="n"><rect x="530" y="1522" width="268" height="45" rx="5"/><text x="536.5" y="1540.85">8、4月30日前线路队拉通存梁场通道，同时<tspan x="536.5" dy="16.5">存梁场完成达到存梁条件；</tspan></text></g>
<g id="l2b19" class="n"><rect x="543" y="1595" width="255" height="29" rx="5"/><text x="549.5" y="1614.1">9、8月31日前完成丹梓特大桥架梁365片；</text></g>
<g id="l2b20" class="n"><rect x="558" y="1651" width="240" height="29" rx="5"/><text x="564.5" y="1670.1">10、6月30日前无砟道床完成首件评估；</text></g>
<g id="l2b20a" class="n"><rect x="407" y="1651" width="128" height="29" rx="5"/><text x="413.5" y="1670.1">（四）、创誉目标：</text></g>
<g id="l2b21" class="n"><rect x="530" y="1708" width="268" height="45" rx="5"/><text x="536.5" y="1726.85">1、无重大不良行为，不影响集团公司指挥部<tspan x="536.5" dy="16.5">的信誉评价。</tspan></text></g>
<g id="l2b22" class="n"><rect x="530" y="1781" width="268" height="110" rx="5"/><text x="536.5" y="1799.35">2、厦深铁路建设指挥部、监理、局工程指挥<tspan x="536.5" dy="16.5">部或上级的月度、季度安全、质量检查中，确</tspan><tspan x="536.5" dy="16.5">保施工现场无停工或返工整改通知书或负面通</tspan><tspan x="536.5" dy="16.5">报（影响主体结构或直接威胁行车、人身安全</tspan><tspan x="536.5" dy="16.5">），次要问题每月控制在二项（同类问题部门</tspan><tspan x="536.5" dy="16.5">重复）。</tspan></text></g>
<g id="l2b23" class="n"><rect x="530" y="1919" width="268" height="61" rx="5"/><text x="536.5" y="1937.6">3、局指挥部的月度、季度安全质量考核中，<tspan x="536.5" dy="16.5">确保综合扣分率20分一下；综合排名保二争</tspan><tspan x="536.5" dy="16.5">一绝三。</tspan></text></g>
<g id="l2cA" class="n"><rect x="506" y="2069" width="266" height="45" rx="5"/><text x="512.5" y="2087.85">1、工区成立劳动竞赛活动领导小组及办公室<tspan x="512.5" dy="16.5">。</tspan></text></g>
<g id="l2cA1" class="n"><rect x="431" y="2008" width="50" height="29" rx="5"/><text x="437.5" y="2027.1">组长：</text></g>
<g id="l2cA2" class="n"><rect x="418" y="2065" width="63" height="29" rx="5"/><text x="424.5" y="2084.1">副组长：</text></g>
<g id="l2cA3" class="n"><rect x="431" y="2146" width="50" height="29" rx="5"/><text x="437.5" y="2165.1">成员：</text></g>
<g id="l2cA31" class="n"><rect x="140" y="2121" width="266" height="78" rx="5"/><text x="146.5" y="2140.35">领导小组办公室设在总工办公室（电话：）职<tspan x="146.5" dy="16.5">责：负责劳动竞赛的考评、对影响施工时间节</tspan><tspan x="146.5" dy="16.5">点的相关问题进行指导和与相关部门进行协调</tspan><tspan x="146.5" dy="16.5">。</tspan></text></g>
<g id="l2cB" class="n"><rect x="566" y="2907" width="206" height="29" rx="5"/><text x="572.5" y="2926.1">2、领导小组下分为9个竞赛小组。</text></g>
<g id="g1" class="n"><rect x="448" y="2276" width="94" height="29" rx="5"/><text x="454.5" y="2295.1">1）工程技术组</text></g>
<g id="g1a" class="n"><rect x="374" y="2227" width="50" height="29" rx="5"/><text x="380.5" y="2246.1">组长：</text></g>
<g id="g1b" class="n"><rect x="374" y="2324" width="50" height="29" rx="5"/><text x="380.5" y="2343.1">成员：</text></g>
<g id="g1b1" class="n"><rect x="82" y="2283" width="268" height="45" rx="5"/><text x="88.5" y="2301.85">职责：负责提供施工过程中的技术支持，及时<tspan x="88.5" dy="16.5">完成领导小组安排</tspan></text></g>
<g id="g1b2" class="n"><rect x="260" y="2356" width="90" height="29" rx="5"/><text x="266.5" y="2375.1">的其他任务。</text></g>
<g id="g2" class="n"><rect x="446" y="2453" width="96" height="29" rx="5"/><text x="452.5" y="2472.1">2）安全质量组</text></g>
<g id="g2a" class="n"><rect x="371" y="2412" width="50" height="29" rx="5"/><text x="377.5" y="2431.1">组长：</text></g>
<g id="g2b" class="n"><rect x="371" y="2493" width="50" height="29" rx="5"/><text x="377.5" y="2512.1">成员：</text></g>
<g id="g2b1" class="n"><rect x="80" y="2468" width="268" height="78" rx="5"/><text x="86.5" y="2487.35">职责：负责安全生产过程中的安全质量情况的<tspan x="86.5" dy="16.5">监控，及时提供并落实安全保证措施，为实现</tspan><tspan x="86.5" dy="16.5">工期节点目标营造良好的安全环境，及时完成</tspan><tspan x="86.5" dy="16.5">领导小组安排的其他任务。</tspan></text></g>
<g id="g3" class="n"><rect x="446" y="2611" width="96" height="29" rx="5"/><text x="452.5" y="2630.1">3）物资供应组</text></g>
<g id="g3a" class="n"><rect x="371" y="2574" width="50" height="29" rx="5"/><text x="377.5" y="2593.1">组长：</text></g>
<g id="g3b" class="n"><rect x="371" y="2647" width="50" height="29" rx="5"/><text x="377.5" y="2666.1">成员：</text></g>
<g id="g3b1" class="n"><rect x="80" y="2631" width="268" height="61" rx="5"/><text x="86.5" y="2649.6">职责：负责及时提供生产过程中所需的物资和<tspan x="86.5" dy="16.5">设备，为实现工期节点目标提供物资保证，及</tspan><tspan x="86.5" dy="16.5">时完成领导小组安排的其他任务。</tspan></text></g>
<g id="g4" class="n"><rect x="458" y="2756" width="84" height="29" rx="5"/><text x="464.5" y="2775.1">4）综合小组</text></g>
<g id="g4a" class="n"><rect x="384" y="2719" width="50" height="29" rx="5"/><text x="390.5" y="2738.1">组长：</text></g>
<g id="g4b" class="n"><rect x="384" y="2793" width="50" height="29" rx="5"/><text x="390.5" y="2812.1">成员：</text></g>
<g id="g4b1" class="n"><rect x="93" y="2777" width="267" height="61" rx="5"/><text x="99.5" y="2795.6">职责：负责及时解决生产过程中所需的车辆调<tspan x="99.5" dy="16.5">配、办公用品和生活质量的保证，及时完成领</tspan><tspan x="99.5" dy="16.5">导小组安排的其他任务。</tspan></text></g>
<g id="g5" class="n"><rect x="458" y="2920" width="84" height="29" rx="5"/><text x="464.5" y="2939.1">5）计财小组</text></g>
<g id="g5a" class="n"><rect x="384" y="2865" width="50" height="29" rx="5"/><text x="390.5" y="2884.1">组长：</text></g>
<g id="g5b" class="n"><rect x="384" y="2974" width="50" height="29" rx="5"/><text x="390.5" y="2993.1">成员：</text></g>
<g id="g5b1" class="n"><rect x="93" y="2922" width="267" height="61" rx="5"/><text x="99.5" y="2940.6">职责：计合部负责及时完成合同的编制和签认<tspan x="99.5" dy="16.5">，按时完成对作业队的计价。财务部负责及时</tspan><tspan x="99.5" dy="16.5">为正常生产提供资金保证。及时完成领导</tspan></text></g>
<g id="g5b2" class="n"><rect x="220" y="3011" width="140" height="29" rx="5"/><text x="226.5" y="3030.1">小组安排的其他任务。</text></g>
<g id="g6" class="n"><rect x="420" y="3104" width="122" height="29" rx="5"/><text x="426.5" y="3123.1">6）线路专业项目部</text></g>
<g id="g6a" class="n"><rect x="346" y="3104" width="50" height="29" rx="5"/><text x="352.5" y="3123.1">组长：</text></g>
<g id="g6a1" class="n"><rect x="106" y="3067" width="216" height="29" rx="5"/><text x="112.5" y="3086.1">组员：厦深线路专业项目部全体人员</text></g>
<g id="g6a2" class="n"><rect x="55" y="3124" width="267" height="61" rx="5"/><text x="61.5" y="3142.6">职责：按时按量安全地完成项目部安排的进度<tspan x="61.5" dy="16.5">计划中各阶段生产任务，服从项目部的日常管</tspan><tspan x="61.5" dy="16.5">理。</tspan></text></g>
<g id="g7" class="n"><rect x="420" y="3249" width="122" height="29" rx="5"/><text x="426.5" y="3268.1">7）铺架专业项目部</text></g>
<g id="g7a" class="n"><rect x="346" y="3249" width="50" height="29" rx="5"/><text x="352.5" y="3268.1">组长：</text></g>
<g id="g7a1" class="n"><rect x="106" y="3213" width="216" height="29" rx="5"/><text x="112.5" y="3232.1">组员：厦深铺架专业项目部全体人员</text></g>
<g id="g7a2" class="n"><rect x="55" y="3269" width="267" height="61" rx="5"/><text x="61.5" y="3287.6">职责：按时按量安全地完成项目部安排的进度<tspan x="61.5" dy="16.5">计划中各阶段生产任务，服从项目部的日常管</tspan><tspan x="61.5" dy="16.5">理。</tspan></text></g>
<g id="g8" class="n"><rect x="420" y="3394" width="122" height="29" rx="5"/><text x="426.5" y="3413.1">8）铺架专业项目部</text></g>
<g id="g8a" class="n"><rect x="346" y="3394" width="50" height="29" rx="5"/><text x="352.5" y="3413.1">组长：</text></g>
<g id="g8a1" class="n"><rect x="80" y="3358" width="242" height="29" rx="5"/><text x="86.5" y="3377.1">组员：厦深整体道床专业项目部全体人员</text></g>
<g id="g8a2" class="n"><rect x="55" y="3414" width="267" height="61" rx="5"/><text x="61.5" y="3432.6">职责：按时按量安全地完成项目部安排的进度<tspan x="61.5" dy="16.5">计划中各阶段生产任务，服从项目部的日常管</tspan><tspan x="61.5" dy="16.5">理。</tspan></text></g>
<g id="g9" class="n"><rect x="420" y="3540" width="122" height="29" rx="5"/><text x="426.5" y="3559.1">9）现场劳务生产组</text></g>
<g id="g9a" class="n"><rect x="346" y="3540" width="50" height="29" rx="5"/><text x="352.5" y="3559.1">组长：</text></g>
<g id="g9a1" class="n"><rect x="169" y="3504" width="153" height="29" rx="5"/><text x="175.5" y="3523.1">成员：桥梁三队全体人员</text></g>
<g id="g9a2" class="n"><rect x="55" y="3560" width="267" height="61" rx="5"/><text x="61.5" y="3578.6">职责：按时按量安全地完成项目部安排的进度<tspan x="61.5" dy="16.5">计划中各阶段生产任务，服从项目部的日常管</tspan><tspan x="61.5" dy="16.5">理。</tspan></text></g>

<!-- 精选4 -->
<g id="l4a" class="n"><rect x="855" y="3731" width="93" height="29" rx="5"/><text x="861.5" y="3750.1">一、 活动主题</text></g>
<g id="l4a1" class="n"><rect x="564" y="3706" width="268" height="78" rx="5"/><text x="570.5" y="3725.35">为丰富我公司全体员工业余生活，本着"友谊<tspan x="570.5" dy="16.5">第一，比赛第二"的原则，促进大家的交流，</tspan><tspan x="570.5" dy="16.5">培养集体荣誉感，特此本次工会活动举办篮球</tspan><tspan x="570.5" dy="16.5">赛。</tspan></text></g>
<g id="l4b" class="n"><rect x="818" y="3840" width="130" height="29" rx="5"/><text x="824.5" y="3859.1">二、 活动时间及地点</text></g>
<g id="l4b1" class="n"><rect x="629" y="3812" width="164" height="29" rx="5"/><text x="635.5" y="3831.1">活动时间：20__年7月29日</text></g>
<g id="l4b2" class="n"><rect x="717" y="3868" width="76" height="29" rx="5"/><text x="723.5" y="3887.1">活动地点：</text></g>
<g id="l4c" class="n"><rect x="855" y="3925" width="93" height="29" rx="5"/><text x="861.5" y="3944.1">三、 主办单位</text></g>
<g id="l4c1" class="n"><rect x="756" y="3925" width="76" height="29" rx="5"/><text x="762.5" y="3944.1">主办单位：</text></g>
<g id="l4d" class="n"><rect x="855" y="3979" width="93" height="29" rx="5"/><text x="861.5" y="3998.1">四、 活动对象</text></g>
<g id="l4e" class="n"><rect x="855" y="4106" width="93" height="29" rx="5"/><text x="861.5" y="4125.1">五、 活动流程</text></g>
<g id="l4e1" class="n"><rect x="564" y="4037" width="268" height="45" rx="5"/><text x="570.5" y="4055.85">公司工会活动当日上午进行公司月度例会，总<tspan x="570.5" dy="16.5">结上月工作情况并积极绸缪下月工作安排。</tspan></text></g>
<g id="l4e2" class="n"><rect x="704" y="4106" width="128" height="29" rx="5"/><text x="710.5" y="4125.1">中午安排员工就餐。</text></g>
<g id="l4e3" class="n"><rect x="704" y="4166" width="128" height="29" rx="5"/><text x="710.5" y="4185.1">下午进行篮球比赛。</text></g>
<g id="l4f" class="n"><rect x="855" y="4239" width="93" height="29" rx="5"/><text x="861.5" y="4258.1">六、 参赛方式</text></g>
<g id="l4f1" class="n"><rect x="564" y="4222" width="268" height="62" rx="5"/><text x="570.5" y="4241.6">比赛分为两支队伍，甲队由市本级、鄞州区、<tspan x="570.5" dy="16.5">奉化选派5名员工参赛，乙队由慈溪、余姚、</tspan><tspan x="570.5" dy="16.5">宁海、舟山选派5名员工参赛。</tspan></text></g>
<g id="l4g" class="n"><rect x="855" y="4368" width="93" height="29" rx="5"/><text x="861.5" y="4387.1">七、 比赛规则</text></g>
<g id="l4g1" class="n"><rect x="607" y="4311" width="225" height="29" rx="5"/><text x="613.5" y="4330.1">1、双方上场人数各为3人，替补2人。</text></g>
<g id="l4g2" class="n"><rect x="564" y="4368" width="268" height="29" rx="5"/><text x="570.5" y="4387.1">2、比赛时间为40分钟，上下半场各20分钟。</text></g>
<g id="l4g3" class="n"><rect x="564" y="4424" width="268" height="29" rx="5"/><text x="570.5" y="4443.1">3、 其他规则参照美国职业篮球联赛相关规则</text></g>
<g id="l4h" class="n"><rect x="855" y="4537" width="93" height="29" rx="5"/><text x="861.5" y="4556.1">八、 物资需求</text></g>
<g id="l4h1" class="n"><rect x="758" y="4481" width="74" height="29" rx="5"/><text x="764.5" y="4500.1">1、比赛用水</text></g>
<g id="l4h2" class="n"><rect x="781" y="4537" width="51" height="29" rx="5"/><text x="787.5" y="4556.1">2、奖品</text></g>
<g id="l4h3" class="n"><rect x="768" y="4593" width="64" height="29" rx="5"/><text x="774.5" y="4612.1">3、照相机</text></g>
<g id="l4i" class="n"><rect x="855" y="4658" width="93" height="29" rx="5"/><text x="861.5" y="4677.1">九、 奖项设立</text></g>
<g id="l4i1" class="n"><rect x="564" y="4650" width="268" height="45" rx="5"/><text x="570.5" y="4668.85">胜利一方每人获得价值100元奖品一份，失利<tspan x="570.5" dy="16.5">一方每人获得价值50元奖品一份。</tspan></text></g>
<g id="l4j" class="n"><rect x="855" y="4807" width="93" height="29" rx="5"/><text x="861.5" y="4826.1">十、 活动预算</text></g>
<g id="l4j1" class="n"><rect x="680" y="4723" width="152" height="29" rx="5"/><text x="686.5" y="4742.1">1、 中午员工就餐1500元</text></g>
<g id="l4j2" class="n"><rect x="710" y="4779" width="122" height="29" rx="5"/><text x="716.5" y="4798.1">2、 比赛用水100元</text></g>
<g id="l4j3" class="n"><rect x="708" y="4835" width="124" height="29" rx="5"/><text x="714.5" y="4854.1">3、 比赛奖励750元</text></g>
<g id="l4j4" class="n"><rect x="695" y="4892" width="137" height="29" rx="5"/><text x="701.5" y="4911.1">4、 拉拉队奖励450元</text></g>
</g>
</svg>
